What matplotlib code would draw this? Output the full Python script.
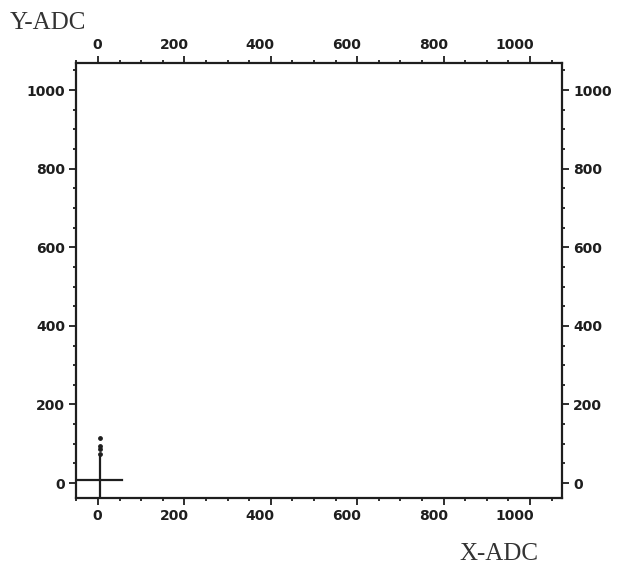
import matplotlib
matplotlib.use("Agg")
import matplotlib.pyplot as plt
import matplotlib.transforms as mtransforms
from matplotlib.ticker import MultipleLocator

# cross marking the pedestal position
cross_h_x = [-51, 56]
cross_h_y = [8, 8]
cross_v_x = [5, 5]
cross_v_y = [-38, 69]

# events just above the pedestal
dots_x = [5, 5, 5, 5]
dots_y = [74, 87, 94, 115]

ticks = [0, 200, 400, 600, 800, 1000]
tick_labels = ["0", "200", "400", "600", "800", "1000"]

ink = "#1e1e1e"
lab_font = dict(fontweight="bold", fontsize=10, color=ink)

fig = plt.figure(figsize=(6.2, 5.64), dpi=100)
ax = fig.add_axes([76 / 620, 1 - 498 / 564, 486 / 620, 435 / 564])

ax.plot(cross_h_x, cross_h_y, color=ink, lw=1.6)
ax.plot(cross_v_x, cross_v_y, color=ink, lw=1.6)
ax.scatter(dots_x, dots_y, s=6, color=ink, zorder=3)

ax.set_xlim(-51, 1074)
ax.set_ylim(-38, 1069)

ax.set_xticks(ticks)
ax.set_xticklabels([])
ax.set_yticks(ticks)
ax.set_yticklabels(tick_labels, **lab_font)
ax.xaxis.set_minor_locator(MultipleLocator(50))
ax.yaxis.set_minor_locator(MultipleLocator(50))

for s in ax.spines.values():
    s.set_linewidth(1.6)
    s.set_color(ink)

ax.tick_params(which="both", direction="out", color=ink, width=1.3,
               top=True, right=True, labelright=True)
ax.tick_params(which="major", length=5, pad=3)
ax.tick_params(which="minor", length=2.5)
for t in ax.yaxis.get_major_ticks():
    t.label2.set_fontweight("bold")
    t.label2.set_fontsize(10)
    t.label2.set_color(ink)

# old plotter puts x labels right-aligned just past the tick
xtr = ax.get_xaxis_transform()
below = mtransforms.ScaledTranslation(4 / 100, -11 / 100, fig.dpi_scale_trans)
above = mtransforms.ScaledTranslation(4 / 100, 11 / 100, fig.dpi_scale_trans)
for t, lab in zip(ticks, tick_labels):
    ax.text(t, 0, lab, transform=xtr + below, ha="right", va="top", **lab_font)
    ax.text(t, 1, lab, transform=xtr + above, ha="right", va="bottom", **lab_font)

fig.text(10 / 620, 1 - 29 / 564, "Y-ADC", fontsize=18, family="Liberation Serif", color="#333333")
fig.text(459 / 620, 4 / 564, "X-ADC", fontsize=18, family="Liberation Serif", color="#333333")

fig.savefig("out.png", dpi=100, facecolor="white")
